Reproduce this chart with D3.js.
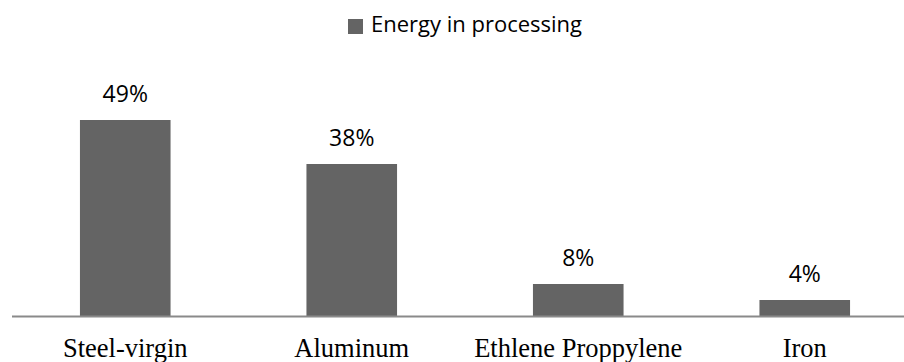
<!DOCTYPE html>
<html>
<head>
<meta charset="utf-8">
<script src="https://cdn.jsdelivr.net/npm/d3@7/dist/d3.min.js"></script>
<style>
  html, body { margin: 0; padding: 0; background: #fff; }
  svg { display: block; }
</style>
</head>
<body>
<svg id="chart" width="904" height="362"></svg>
<script>
// Share of energy spent in processing, by material
const categories = ["Steel-virgin", "Aluminum", "Ethlene Proppylene", "Iron"];
const values = [49, 38, 8, 4];
const seriesName = "Energy in processing";

const W = 904, H = 362;
const baseline = 316;
const svg = d3.select("#chart");

const x = d3.scaleBand()
  .domain(categories)
  .range([12, 918])
  .paddingInner(0.6)
  .paddingOuter(0.3);

const y = d3.scaleLinear()
  .domain([0, 50])
  .range([baseline, 116]);

const barColor = "#646464";

// bars
svg.append("g").selectAll("rect")
  .data(values)
  .join("rect")
  .attr("x", (d, i) => x(categories[i]))
  .attr("y", d => y(d))
  .attr("width", x.bandwidth())
  .attr("height", d => y(0) - y(d))
  .attr("fill", barColor);

// value labels
svg.append("g").selectAll("text")
  .data(values)
  .join("text")
  .attr("x", (d, i) => x(categories[i]) + x.bandwidth() / 2)
  .attr("y", d => y(d) - 18)
  .attr("text-anchor", "middle")
  .attr("font-family", "'Open Sans', sans-serif")
  .attr("font-size", 23)
  .attr("fill", "#000")
  .text(d => d + "%");

// category axis
const axis = svg.append("g")
  .attr("transform", `translate(0,${baseline})`)
  .call(d3.axisBottom(x).tickSize(0));
axis.select(".domain").remove();
axis.selectAll("text")
  .attr("y", 40.5)
  .attr("dy", 0)
  .attr("font-family", "'Liberation Serif', 'Times New Roman', serif")
  .attr("font-size", 26.5)
  .attr("fill", "#000");
svg.append("line")
  .attr("x1", 12).attr("x2", W)
  .attr("y1", baseline + 0.5).attr("y2", baseline + 0.5)
  .attr("stroke", "#8a8a8a")
  .attr("stroke-width", 2);

// legend
const legend = svg.append("g").attr("transform", "translate(348,19)");
legend.append("rect")
  .attr("width", 15).attr("height", 15)
  .attr("fill", barColor);
legend.append("text")
  .attr("x", 23).attr("y", 12.5)
  .attr("font-family", "'Open Sans', sans-serif")
  .attr("font-size", 22)
  .attr("fill", "#000")
  .text(seriesName);
</script>
</body>
</html>
